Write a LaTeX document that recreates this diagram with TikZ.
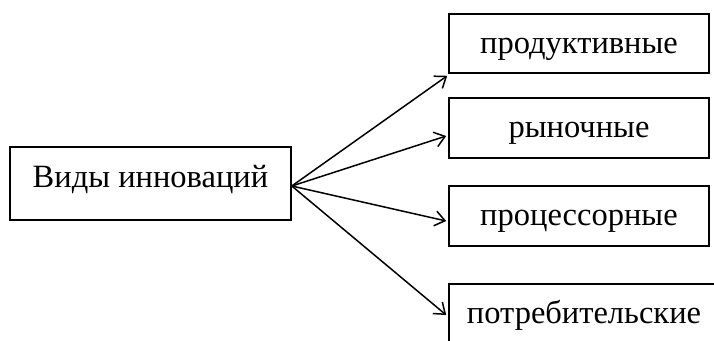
\documentclass[tikz,border=0pt]{standalone}
\usepackage{fontspec}
\setmainfont{Liberation Serif}
\usetikzlibrary{arrows.meta,calc}
\begin{document}
\begin{tikzpicture}[x=1pt,y=-1pt,
  box/.style={draw,line width=1.6pt,rectangle,inner sep=0pt,
    font=\fontsize{32.5}{38}\selectfont,text height=25pt,text depth=18pt},
  rbox/.style={box,text height=28pt,text depth=9pt},
  conn/.style={line width=1.5pt,-{Straight Barb[length=10pt,width=15pt,line width=1.5pt]}}]
\useasboundingbox (0,0) rectangle (714,340);
\clip (0,0) rectangle (714,340);
\fill[white] (0,0) rectangle (714,340);
\node[box,minimum width=281pt,minimum height=73pt] (src) at (150.5,183.5) {Виды инноваций};
\node[rbox,minimum width=260pt,minimum height=59pt] (b1) at (579,43.5) {продуктивные};
\node[rbox,minimum width=260pt,minimum height=60pt] (b2) at (579,128) {рыночные};
\node[rbox,minimum width=260pt,minimum height=60pt] (b3) at (579,216) {процессорные};
\node[rbox,minimum width=270pt,minimum height=60pt] (b4) at (584,314) {потребительские};
\coordinate (o) at ($(src.east)+(0,2.5)$);
\draw[conn] (o) -- ($(b1.south west)+(-1,2)$);
\draw[conn] (o) -- ($(b2.west)+(-2,8)$);
\draw[conn] (o) -- ($(b3.west)+(-2,5)$);
\draw[conn] (o) -- ($(b4.west)+(-2,1)$);
\end{tikzpicture}
\end{document}
